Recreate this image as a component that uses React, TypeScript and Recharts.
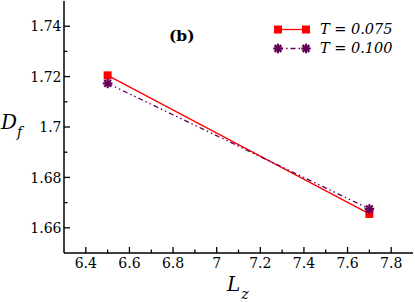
import React from 'react';
import { LineChart, Line, XAxis, YAxis, Legend } from 'recharts';

// values
const lzValues = [6.5, 7.7];
const dfT075 = [1.7205, 1.6655];
const dfT100 = [1.7173, 1.6675];
const xTicks = [6.4, 6.5, 6.6, 6.7, 6.8, 6.9, 7, 7.1, 7.2, 7.3, 7.4, 7.5, 7.6, 7.7, 7.8];
const yTicks = [1.66, 1.67, 1.68, 1.69, 1.7, 1.71, 1.72, 1.73, 1.74];

const data = lzValues.map((lz, i) => ({ lz, t075: dfT075[i], t100: dfT100[i] }));

// only DejaVu Serif resolves as a serif face here
const SERIF = 'DejaVu Serif';
const RED = '#ff0000';
const PURPLE = '#650058';

const fmt = (v: number) => String(Number(v.toFixed(2)));

const XTick = ({ x, y, payload, top }: any) => {
  const major = Math.round(payload.value * 10) % 2 === 0;
  const len = major ? 6 : 3.5;
  const dir = top ? 1 : -1;
  return (
    <g>
      <line x1={x} y1={y} x2={x} y2={y + dir * len} stroke="#000" strokeWidth={1.3} />
      {!top && major && (
        <text x={x} y={y + 15} textAnchor="middle" fontFamily={SERIF} fontSize={14} fill="#000">
          {fmt(payload.value)}
        </text>
      )}
    </g>
  );
};

const YTick = ({ x, y, payload, right }: any) => {
  const major = Math.round(payload.value * 100) % 2 === 0;
  const len = major ? 6 : 3.5;
  const dir = right ? -1 : 1;
  return (
    <g>
      <line x1={x} y1={y} x2={x + dir * len} y2={y} stroke="#000" strokeWidth={1.3} />
      {!right && major && (
        <text x={x - 2.5} y={y + 5.2} textAnchor="end" fontFamily={SERIF} fontSize={14} fill="#000">
          {fmt(payload.value)}
        </text>
      )}
    </g>
  );
};

const SquareDot = ({ cx, cy }: any) => (
  <rect x={cx - 4} y={cy - 4} width={8} height={8} fill={RED} />
);

const StarDot = ({ cx, cy }: any) => {
  const r = 4.8;
  const spokes = [0, 45, 90, 135];
  return (
    <g>
      {spokes.map((a) => {
        const rad = (a * Math.PI) / 180;
        const dx = Math.cos(rad) * r;
        const dy = Math.sin(rad) * r;
        return (
          <line key={a} x1={cx - dx} y1={cy - dy} x2={cx + dx} y2={cy + dy} stroke={PURPLE} strokeWidth={2.2} />
        );
      })}
      <circle cx={cx} cy={cy} r={2.2} fill={PURPLE} />
    </g>
  );
};

const LegendContent = () => (
  <div style={{ fontFamily: SERIF, fontStyle: 'italic', fontSize: 14.5, lineHeight: '18.5px', color: '#000' }}>
    <div style={{ display: 'flex', alignItems: 'center' }}>
      <svg width={40} height={18.5}>
        <line x1={6} y1={9.5} x2={34} y2={9.5} stroke={RED} strokeWidth={1.3} />
        <SquareDot cx={6} cy={9.5} />
        <SquareDot cx={34} cy={9.5} />
      </svg>
      <span style={{ marginLeft: 8, whiteSpace: 'pre' }}>T = 0.075</span>
    </div>
    <div style={{ display: 'flex', alignItems: 'center' }}>
      <svg width={40} height={18.5}>
        <line x1={6} y1={9.5} x2={34} y2={9.5} stroke={PURPLE} strokeWidth={1.3} strokeDasharray="5 3 1.5 3" />
        <StarDot cx={6} cy={9.5} />
        <StarDot cx={34} cy={9.5} />
      </svg>
      <span style={{ marginLeft: 8, whiteSpace: 'pre' }}>T = 0.100</span>
    </div>
  </div>
);

const App = () => {
  return (
    <div style={{ position: 'absolute', left: 0, top: 0, width: 415, height: 302, background: '#fff' }}>
      <LineChart width={415} height={302} data={data} margin={{ top: 1, right: 2, left: 0, bottom: 0 }}>
        <XAxis
          xAxisId="b"
          dataKey="lz"
          type="number"
          domain={[6.3, 7.9]}
          ticks={xTicks}
          interval={0}
          height={49}
          tickSize={0}
          tickMargin={0}
          tickLine={false}
          axisLine={{ stroke: '#000', strokeWidth: 1.5 }}
          tick={<XTick />}
        />
        <XAxis
          xAxisId="t"
          orientation="top"
          dataKey="lz"
          type="number"
          domain={[6.3, 7.9]}
          ticks={xTicks}
          interval={0}
          height={0}
          tickSize={0}
          tickMargin={0}
          tickLine={false}
          axisLine={{ stroke: '#000', strokeWidth: 1.5 }}
          tick={<XTick top />}
        />
        <YAxis
          yAxisId="l"
          type="number"
          domain={[1.65, 1.75]}
          ticks={yTicks}
          interval={0}
          width={64}
          tickSize={0}
          tickMargin={0}
          tickLine={false}
          axisLine={{ stroke: '#000', strokeWidth: 1.5 }}
          tick={<YTick />}
        />
        <YAxis
          yAxisId="r"
          orientation="right"
          type="number"
          domain={[1.65, 1.75]}
          ticks={yTicks}
          interval={0}
          width={0}
          tickSize={0}
          tickMargin={0}
          tickLine={false}
          axisLine={{ stroke: '#000', strokeWidth: 1.5 }}
          tick={<YTick right />}
        />
        <Legend
          layout="horizontal"
          verticalAlign="middle"
          align="center"
          content={<LegendContent />}
          wrapperStyle={{ top: 20, left: 272, width: 140 }}
        />
        <Line
          xAxisId="b"
          yAxisId="l"
          dataKey="t075"
          stroke={RED}
          strokeWidth={1.3}
          dot={<SquareDot />}
          activeDot={false}
          isAnimationActive={false}
        />
        <Line
          xAxisId="b"
          yAxisId="l"
          dataKey="t100"
          stroke={PURPLE}
          strokeWidth={1.3}
          strokeDasharray="5 3 1.5 3 1.5 3"
          dot={<StarDot />}
          activeDot={false}
          isAnimationActive={false}
        />
      </LineChart>
      <div style={{ position: 'absolute', left: 169, top: 26, fontFamily: SERIF, fontWeight: 'bold', fontSize: 15.5, lineHeight: '20px' }}>
        (b)
      </div>
      <div style={{ position: 'absolute', left: 1, top: 110, fontFamily: SERIF, fontStyle: 'italic', fontSize: 20, lineHeight: '24px' }}>
        D<span style={{ fontSize: 14, position: 'relative', top: 8, left: 0 }}>f</span>
      </div>
      <div style={{ position: 'absolute', left: 227, top: 272, fontFamily: SERIF, fontStyle: 'italic', fontSize: 20, lineHeight: '24px' }}>
        L<span style={{ fontSize: 14, position: 'relative', top: 8, left: 1 }}>z</span>
      </div>
    </div>
  );
};

export default App;
